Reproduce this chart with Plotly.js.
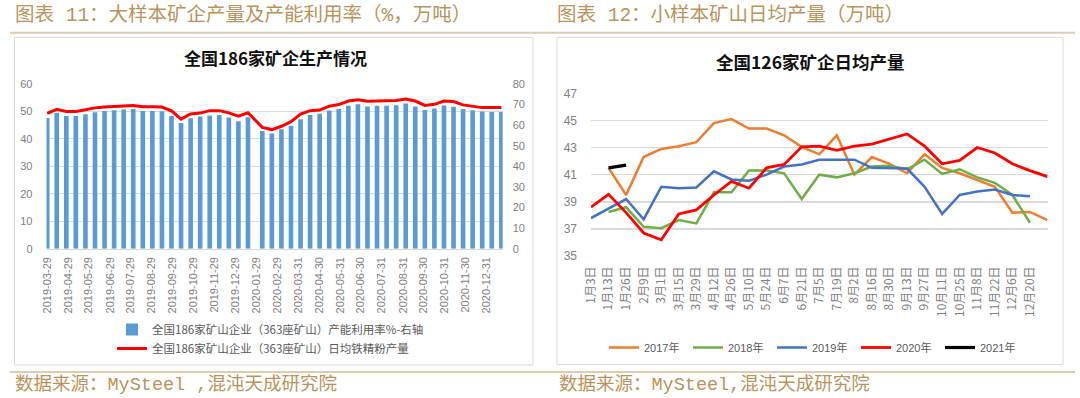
<!DOCTYPE html>
<html>
<head>
<meta charset="utf-8">
<script src="https://cdn.plot.ly/plotly-3.0.1.min.js"></script>
<style>
html,body{margin:0;padding:0;background:#fff;}
#chart{width:1080px;height:398px;}
</style>
</head>
<body>
<div id="chart"></div>
<script>
// ===== Left chart: 全国186家矿企生产情况 =====
const leftDates = [
  '2019-03-29','2019-04-12','2019-04-26','2019-05-10','2019-05-24','2019-06-07','2019-06-21','2019-07-05',
  '2019-07-19','2019-08-02','2019-08-16','2019-08-30','2019-09-13','2019-09-27','2019-10-11','2019-10-25',
  '2019-11-08','2019-11-22','2019-12-06','2019-12-20','2020-01-03','2020-01-17',
  '2020-02-07','2020-02-21','2020-03-06','2020-03-20','2020-04-03','2020-04-17','2020-05-01','2020-05-15',
  '2020-05-29','2020-06-12','2020-06-26','2020-07-10','2020-07-24','2020-08-07','2020-08-21','2020-09-04',
  '2020-09-18','2020-10-02','2020-10-16','2020-10-30','2020-11-13','2020-11-27','2020-12-11','2020-12-25',
  '2021-01-08','2021-01-22'
];
// 产能利用率 % (right axis)
const utilizationPct = [
  63.5,66.0,64.4,64.5,65.3,66.3,66.9,67.3,67.6,67.8,
  66.9,66.9,66.8,64.5,61.1,63.4,64.2,64.7,65.0,63.7,
  61.9,63.9,57.2,55.9,58.0,59.7,62.9,65.0,65.5,67.1,
  67.8,69.4,70.2,69.1,69.4,69.4,69.7,70.5,69.1,67.4,
  68.1,69.5,68.9,67.8,67.3,66.6,66.4,66.4
];
// 日均铁精粉产量 万吨 (left axis)
const dailyOutput = [
  49.3,50.8,50.0,50.0,50.6,51.3,51.6,51.9,52.0,52.2,
  51.7,51.7,51.6,50.2,47.2,49.1,49.4,50.3,50.3,49.5,
  48.3,49.5,44.2,43.4,44.6,46.3,49.0,50.3,50.5,51.9,
  52.5,53.8,54.3,53.7,53.8,53.9,54.0,54.5,53.8,52.2,
  52.6,53.8,53.6,52.4,52.0,51.4,51.4,51.4
];
const leftTickLabels = [
  '2019-03-29','2019-04-29','2019-05-29','2019-06-29','2019-07-29','2019-08-29','2019-09-29',
  '2019-10-29','2019-11-29','2019-12-29','2020-01-29','2020-02-29','2020-03-31','2020-04-30',
  '2020-05-31','2020-06-30','2020-07-31','2020-08-31','2020-09-30','2020-10-31','2020-11-30','2020-12-31'
];
const leftSeriesNames = [
  '全国186家矿山企业（363座矿山）产能利用率%-右轴',
  '全国186家矿山企业（363座矿山）日均铁精粉产量'
];

// ===== Right chart: 全国126家矿企日均产量 =====
const rightCategories = [
  '1月3日','1月13日','1月26日','2月9日','3月1日','3月15日','3月29日','4月12日','4月26日',
  '5月10日','5月24日','6月7日','6月21日','7月5日','7月19日','8月2日','8月16日','8月30日',
  '9月13日','9月27日','10月11日','10月25日','11月8日','11月22日','12月6日','12月20日'
];
const yearNames = ['2017年','2018年','2019年','2020年','2021年'];
const y2017 = [null,41.5,39.5,42.3,42.9,43.1,43.4,44.8,45.1,44.4,44.4,43.9,43.05,42.5,43.9,41.0,42.3,41.8,41.1,42.5,41.5,41.1,40.6,40.1,38.2,38.25,37.65];
const y2018 = [null,38.25,38.6,37.15,37.05,37.65,37.4,39.7,39.7,41.3,41.3,41.1,39.2,41.0,40.8,41.1,41.6,41.65,41.4,42.1,41.05,41.4,40.8,40.4,39.5,37.45,null];
const y2019 = [37.8,38.5,39.2,37.7,40.1,40.0,40.05,41.25,40.65,40.55,41.0,41.6,41.75,42.1,42.1,42.1,41.5,41.5,41.45,40.1,38.1,39.5,39.75,39.9,39.5,39.4,null];
const y2020 = [38.6,39.55,38.2,36.7,36.2,38.1,38.4,39.5,40.5,40.0,41.5,41.75,43.05,43.1,42.8,43.1,43.25,43.6,44.0,43.1,41.8,42.05,43.0,42.6,41.8,41.3,40.85];
const y2021 = [null,41.5,41.7];

// ---- geometry helpers (pixel -> paper) ----
const W = 1080, H = 398;
const px = v => v / W;
const py = v => 1 - v / H;

const yearColors = ['#ED7D31','#70AD47','#4472C4','#FF0000','#000000'];
const yearWidths = [2.5,2.5,2.5,2.8,3.2];
const yearSeries = [y2017,y2018,y2019,y2020,y2021];
const idx = arr => arr.map((_, i) => i);

const tickFont = {family:'Liberation Sans, Noto Sans CJK SC, sans-serif', size:11, color:'#808080'};
const cjkTickFont = {family:'Noto Sans CJK SC, sans-serif', size:12, color:'#808080'};

const traces = [
  {
    type:'bar', name:leftSeriesNames[0], x:leftDates, y:utilizationPct,
    xaxis:'x', yaxis:'y', marker:{color:'#5B9BD5'}, width:6.8*86400000,
    legend:'legend', hoverinfo:'x+y'
  },
  {
    type:'scatter', mode:'lines', name:leftSeriesNames[1], x:leftDates, y:dailyOutput,
    xaxis:'x', yaxis:'y2', line:{color:'#FF0000', width:3}, legend:'legend'
  }
];
yearSeries.forEach((s, k) => {
  traces.push({
    type:'scatter', mode:'lines', name:yearNames[k], x:idx(s), y:s,
    xaxis:'x2', yaxis:'y3', line:{color:yearColors[k], width:yearWidths[k]},
    connectgaps:false, legend:'legend2'
  });
});

const gridColor = '#d9d9d9';
const footFont = {family:'Liberation Mono, Noto Sans CJK SC, monospace', size:18.5, color:'#b8935c'};
const headFont = {family:'Liberation Mono, Noto Sans CJK SC, monospace', size:19.5, color:'#b8935c'};
const layout = {
  width:W, height:H, autosize:false,
  margin:{l:0,r:0,t:0,b:0},
  paper_bgcolor:'#ffffff', plot_bgcolor:'rgba(0,0,0,0)',
  showlegend:true,
  xaxis:{
    type:'date', domain:[px(46.5), px(502.7)], range:['2019-03-28','2021-01-24'],
    tickmode:'array', tickvals:leftTickLabels, ticktext:leftTickLabels, tickangle:-90,
    tickfont:tickFont, showgrid:false, zeroline:false, showline:true, linecolor:gridColor, linewidth:1,
    ticks:'', ticklabelstandoff:3, anchor:'y'
  },
  yaxis:{ // utilization, right side (base)
    domain:[py(248.7), py(84)], range:[0,80], dtick:10, side:'right', anchor:'x',
    showgrid:false, zeroline:false, tickfont:tickFont, ticks:'', ticklabelstandoff:9
  },
  yaxis2:{ // daily output, left side (overlay)
    overlaying:'y', side:'left', range:[0,60], dtick:10, anchor:'x',
    showgrid:true, gridcolor:gridColor, gridwidth:1, zeroline:false,
    tickfont:tickFont, ticks:'', ticklabelstandoff:13
  },
  xaxis2:{
    type:'linear', domain:[px(591), px(1047.5)], range:[0,26], anchor:'y3',
    tickmode:'array', tickvals:idx(rightCategories), ticktext:rightCategories, tickangle:-90,
    tickfont:cjkTickFont, showgrid:false, zeroline:false, showline:false, ticks:'', ticklabelstandoff:7
  },
  yaxis3:{
    domain:[py(256), py(93.3)], range:[35,47], tick0:35, dtick:2, anchor:'x2',
    showgrid:true, gridcolor:gridColor, gridwidth:1.6, zeroline:false,
    tickfont:{family:'Liberation Sans, sans-serif', size:12, color:'#808080'}, ticks:'', ticklabelstandoff:13
  },
  legend:{
    orientation:'v', x:px(112), xanchor:'left', y:py(315), yanchor:'top',
    font:{family:'Noto Sans CJK SC, sans-serif', size:11.5, color:'#595959'},
    bgcolor:'rgba(0,0,0,0)', itemwidth:30, traceorder:'normal'
  },
  legend2:{
    orientation:'h', x:px(604), xanchor:'left', y:py(333), yanchor:'top',
    font:{family:'Liberation Sans, Noto Sans CJK SC, sans-serif', size:11, color:'#595959'},
    bgcolor:'rgba(0,0,0,0)', entrywidthmode:'pixels', entrywidth:39, traceorder:'normal'
  },
  shapes:[
    {type:'line', xref:'paper', yref:'paper', x0:px(10), x1:px(1075), y0:py(32.7), y1:py(32.7), line:{color:'#dccdb0', width:2}},
    {type:'line', xref:'paper', yref:'paper', x0:px(10), x1:px(1075), y0:py(372), y1:py(372), line:{color:'#dccdb0', width:2}},
    {type:'rect', xref:'paper', yref:'paper', x0:px(14.5), x1:px(533), y0:py(365), y1:py(37.5), line:{color:'#d9d9d9', width:1}},
    {type:'rect', xref:'paper', yref:'paper', x0:px(557), x1:px(1063), y0:py(364.5), y1:py(37.5), line:{color:'#d9d9d9', width:1}}
  ],
  annotations:[
    {text:'图表 11：大样本矿企产量及产能利用率（%，万吨）', xref:'paper', yref:'paper', x:px(13), y:py(16), xanchor:'left', yanchor:'middle', showarrow:false, font:headFont},
    {text:'图表 12：小样本矿山日均产量（万吨）', xref:'paper', yref:'paper', x:px(555), y:py(16), xanchor:'left', yanchor:'middle', showarrow:false, font:headFont},
    {text:'数据来源：MySteel ,混沌天成研究院', xref:'paper', yref:'paper', x:px(13), y:py(385), xanchor:'left', yanchor:'middle', showarrow:false, font:footFont},
    {text:'数据来源：MySteel,混沌天成研究院', xref:'paper', yref:'paper', x:px(557), y:py(385), xanchor:'left', yanchor:'middle', showarrow:false, font:footFont},
    {text:'全国186家矿企生产情况', xref:'paper', yref:'paper', x:px(275), y:py(58), xanchor:'center', yanchor:'middle', showarrow:false,
     font:{family:'Noto Sans CJK SC, sans-serif', size:17, color:'#111111', weight:'bold'}},
    {text:'全国126家矿企日均产量', xref:'paper', yref:'paper', x:px(810), y:py(61.5), xanchor:'center', yanchor:'middle', showarrow:false,
     font:{family:'Noto Sans CJK SC, sans-serif', size:17.5, color:'#111111', weight:'bold'}}
  ]
};

Plotly.newPlot('chart', traces, layout, {displayModeBar:false, staticPlot:true});
</script>
</body>
</html>
